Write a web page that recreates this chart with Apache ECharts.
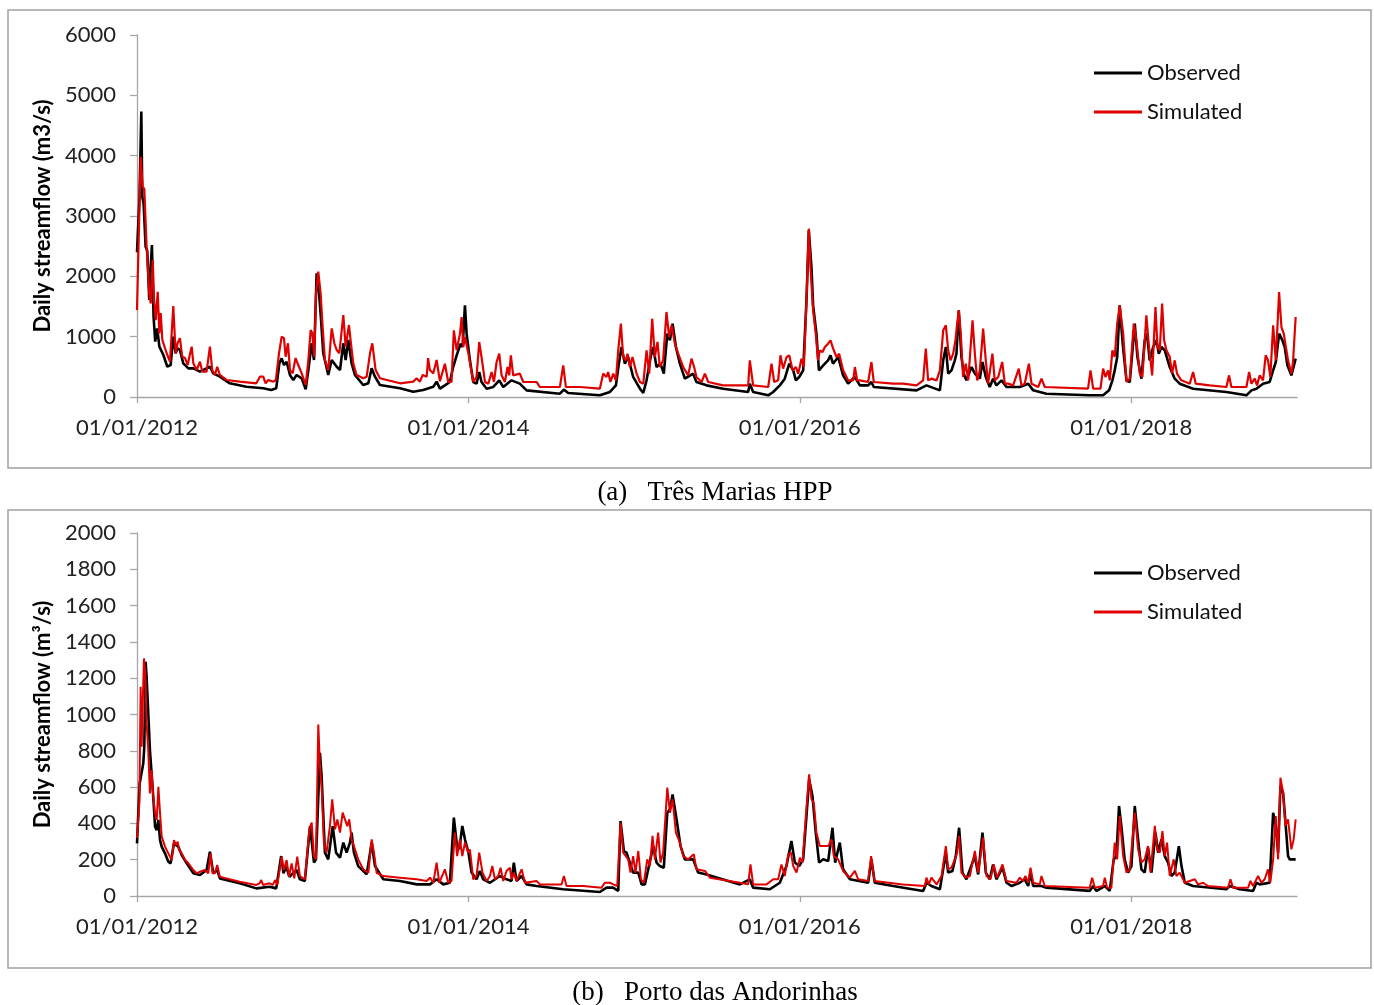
<!DOCTYPE html>
<html>
<head>
<meta charset="utf-8">
<script src="https://cdn.jsdelivr.net/npm/echarts@6/dist/echarts.min.js"></script>
<style>
html,body{margin:0;padding:0;background:#fff;}
#c{width:1374px;height:1005px;}
</style>
</head>
<body>
<div id="c"></div>
<script>
// x values are decimal years (2012.0 = 01/01/2012)
const xTickYears = [2012, 2014, 2016, 2018];
const seriesNames = ['Observed', 'Simulated'];
const panelTitles = ['(a)   Três Marias HPP', '(b)   Porto das Andorinhas'];
const yAxisTitles = ['Daily streamflow (m3/s)', 'Daily streamflow (m\u00B3/s)'];

// Panel (a) Três Marias HPP - observed
const obsA = [
[2012.000,2400],[2012.015,3300],[2012.026,4730],[2012.032,3320],[2012.040,3200],[2012.052,2490],[2012.062,2420],[2012.074,1610],[2012.083,2160],[2012.090,2520],[2012.100,1330],[2012.110,917],[2012.122,1138],[2012.135,834],[2012.159,696],[2012.183,502],[2012.203,530],[2012.219,1000],[2012.233,725],[2012.245,806],[2012.259,779],[2012.279,558],[2012.310,475],[2012.340,475],[2012.380,420],[2012.440,502],[2012.460,392],[2012.500,337],[2012.560,227],[2012.660,171],[2012.762,144],[2012.810,116],[2012.840,144],[2012.859,558],[2012.873,641],[2012.887,530],[2012.903,585],[2012.923,365],[2012.943,282],[2012.963,365],[2012.994,310],[2013.018,127],[2013.034,447],[2013.054,890],[2013.068,613],[2013.084,2050],[2013.098,1745],[2013.110,1304],[2013.124,725],[2013.154,365],[2013.175,613],[2013.205,502],[2013.225,447],[2013.245,890],[2013.259,613],[2013.275,945],[2013.295,558],[2013.315,365],[2013.365,199],[2013.396,227],[2013.416,475],[2013.436,337],[2013.466,199],[2013.587,144],[2013.667,88],[2013.727,116],[2013.788,171],[2013.808,254],[2013.828,138],[2013.858,193],[2013.888,249],[2013.908,497],[2013.929,691],[2013.953,884],[2013.965,829],[2013.979,1519],[2013.989,1050],[2014.009,608],[2014.029,249],[2014.049,221],[2014.065,414],[2014.079,249],[2014.110,138],[2014.150,166],[2014.186,276],[2014.210,166],[2014.260,276],[2014.310,221],[2014.351,110],[2014.552,55],[2014.576,122],[2014.602,66],[2014.793,28],[2014.854,83],[2014.890,193],[2014.908,552],[2014.924,829],[2014.944,552],[2014.964,663],[2014.994,332],[2015.035,138],[2015.055,66],[2015.075,276],[2015.100,663],[2015.115,829],[2015.135,497],[2015.159,552],[2015.179,387],[2015.200,1050],[2015.216,939],[2015.232,1215],[2015.252,829],[2015.276,552],[2015.306,304],[2015.356,387],[2015.376,249],[2015.437,193],[2015.537,138],[2015.688,83],[2015.698,221],[2015.718,83],[2015.809,28],[2015.839,83],[2015.879,193],[2015.909,304],[2015.936,552],[2015.960,442],[2015.976,276],[2015.996,332],[2016.020,442],[2016.040,1602],[2016.054,2763],[2016.070,2155],[2016.080,1519],[2016.100,1050],[2016.115,442],[2016.141,525],[2016.170,608],[2016.185,691],[2016.200,552],[2016.231,663],[2016.261,359],[2016.291,221],[2016.332,332],[2016.362,193],[2016.412,193],[2016.432,249],[2016.446,166],[2016.704,110],[2016.764,193],[2016.845,110],[2016.865,608],[2016.881,829],[2016.895,387],[2016.915,442],[2016.935,608],[2016.945,718],[2016.959,1436],[2016.975,663],[2016.989,387],[2017.005,276],[2017.036,497],[2017.056,387],[2017.086,304],[2017.102,580],[2017.122,332],[2017.146,166],[2017.166,304],[2017.186,193],[2017.217,276],[2017.247,166],[2017.327,166],[2017.378,221],[2017.408,110],[2017.488,55],[2017.749,28],[2017.830,28],[2017.866,110],[2017.886,276],[2017.900,442],[2017.915,663],[2017.930,1519],[2017.950,829],[2017.971,276],[2017.991,249],[2018.021,1215],[2018.037,663],[2018.061,304],[2018.081,939],[2018.095,1050],[2018.111,608],[2018.132,829],[2018.152,939],[2018.166,718],[2018.182,829],[2018.202,774],[2018.232,497],[2018.262,304],[2018.292,221],[2018.373,138],[2018.574,83],[2018.695,28],[2018.725,110],[2018.755,138],[2018.795,221],[2018.835,249],[2018.856,442],[2018.872,580],[2018.892,1050],[2018.912,939],[2018.926,829],[2018.942,525],[2018.966,359],[2018.992,635]
];
// Panel (a) Três Marias HPP - simulated
const simA = [
[2012.000,1440],[2012.022,3980],[2012.034,3485],[2012.044,3450],[2012.058,2490],[2012.074,1720],[2012.083,1550],[2012.095,2270],[2012.103,1610],[2012.113,1275],[2012.125,1745],[2012.135,1055],[2012.143,1390],[2012.153,945],[2012.179,725],[2012.199,585],[2012.219,1508],[2012.233,725],[2012.245,895],[2012.259,975],[2012.273,668],[2012.290,645],[2012.306,530],[2012.316,668],[2012.330,834],[2012.340,558],[2012.360,447],[2012.380,585],[2012.394,420],[2012.420,420],[2012.440,834],[2012.454,447],[2012.470,365],[2012.484,502],[2012.500,365],[2012.540,282],[2012.620,254],[2012.720,227],[2012.742,337],[2012.762,337],[2012.776,227],[2012.792,282],[2012.822,254],[2012.838,282],[2012.857,725],[2012.873,1000],[2012.887,975],[2012.897,668],[2012.911,890],[2012.923,447],[2012.939,392],[2012.957,645],[2012.973,530],[2012.994,392],[2013.018,199],[2013.034,613],[2013.048,1110],[2013.058,1055],[2013.070,668],[2013.080,1718],[2013.094,2077],[2013.108,1718],[2013.120,1166],[2013.134,613],[2013.154,447],[2013.175,1138],[2013.191,890],[2013.205,779],[2013.221,725],[2013.245,1359],[2013.259,834],[2013.279,1193],[2013.291,890],[2013.305,558],[2013.325,365],[2013.365,310],[2013.386,337],[2013.406,724],[2013.420,890],[2013.440,447],[2013.466,310],[2013.587,227],[2013.667,254],[2013.687,310],[2013.707,254],[2013.724,365],[2013.748,337],[2013.757,645],[2013.767,447],[2013.788,392],[2013.808,613],[2013.828,260],[2013.858,552],[2013.878,249],[2013.898,249],[2013.912,1105],[2013.929,773],[2013.949,1050],[2013.959,1326],[2013.969,829],[2013.979,995],[2014.000,718],[2014.029,249],[2014.049,332],[2014.065,912],[2014.079,663],[2014.100,249],[2014.120,221],[2014.140,414],[2014.154,249],[2014.170,580],[2014.186,718],[2014.200,359],[2014.220,249],[2014.236,497],[2014.246,359],[2014.256,691],[2014.270,359],[2014.310,387],[2014.331,249],[2014.411,249],[2014.431,166],[2014.552,166],[2014.572,525],[2014.588,166],[2014.673,166],[2014.793,138],[2014.813,387],[2014.833,332],[2014.843,414],[2014.857,249],[2014.874,387],[2014.890,276],[2014.904,773],[2014.920,1215],[2014.934,663],[2014.950,608],[2014.960,718],[2014.974,497],[2014.990,663],[2015.015,387],[2015.035,249],[2015.055,221],[2015.075,773],[2015.091,387],[2015.109,1298],[2015.125,663],[2015.141,912],[2015.155,497],[2015.175,608],[2015.195,1409],[2015.211,995],[2015.226,1188],[2015.246,884],[2015.266,718],[2015.296,497],[2015.326,359],[2015.346,635],[2015.362,497],[2015.376,332],[2015.407,249],[2015.427,387],[2015.447,249],[2015.537,193],[2015.688,193],[2015.698,608],[2015.718,193],[2015.809,166],[2015.829,552],[2015.845,249],[2015.869,276],[2015.883,691],[2015.899,470],[2015.920,663],[2015.936,691],[2015.956,442],[2015.976,497],[2015.990,387],[2016.010,635],[2016.024,497],[2016.040,1602],[2016.054,2790],[2016.064,2155],[2016.080,1436],[2016.096,1050],[2016.110,608],[2016.120,773],[2016.137,746],[2016.151,829],[2016.170,884],[2016.185,939],[2016.201,801],[2016.221,663],[2016.237,718],[2016.261,442],[2016.291,276],[2016.322,276],[2016.332,497],[2016.346,276],[2016.362,276],[2016.412,249],[2016.432,580],[2016.446,249],[2016.563,221],[2016.623,221],[2016.704,193],[2016.744,276],[2016.760,801],[2016.774,276],[2016.794,304],[2016.825,276],[2016.845,442],[2016.865,1105],[2016.881,1188],[2016.895,774],[2016.909,608],[2016.925,718],[2016.939,939],[2016.949,1215],[2016.959,1436],[2016.971,1050],[2016.985,332],[2017.001,552],[2017.016,276],[2017.026,276],[2017.042,1271],[2017.056,718],[2017.070,276],[2017.086,442],[2017.106,1133],[2017.122,608],[2017.136,221],[2017.162,718],[2017.176,276],[2017.197,332],[2017.221,580],[2017.237,221],[2017.257,221],[2017.287,193],[2017.321,470],[2017.337,193],[2017.357,221],[2017.382,552],[2017.398,221],[2017.438,166],[2017.458,304],[2017.478,166],[2017.739,138],[2017.754,442],[2017.770,138],[2017.814,138],[2017.830,470],[2017.844,332],[2017.860,442],[2017.870,276],[2017.886,774],[2017.900,663],[2017.915,1215],[2017.930,1519],[2017.951,1050],[2017.971,249],[2017.991,304],[2018.015,1215],[2018.031,939],[2018.051,387],[2018.067,332],[2018.091,1354],[2018.105,884],[2018.126,359],[2018.146,1492],[2018.158,829],[2018.172,774],[2018.186,1547],[2018.198,939],[2018.212,774],[2018.232,663],[2018.246,387],[2018.262,608],[2018.276,387],[2018.302,276],[2018.353,221],[2018.373,414],[2018.389,221],[2018.474,193],[2018.574,166],[2018.590,359],[2018.604,166],[2018.695,166],[2018.711,414],[2018.725,221],[2018.745,304],[2018.759,193],[2018.775,359],[2018.795,276],[2018.811,691],[2018.825,608],[2018.839,332],[2018.856,1188],[2018.872,608],[2018.892,1740],[2018.906,1160],[2018.920,1050],[2018.932,1077],[2018.946,608],[2018.966,387],[2018.976,580],[2018.992,1326]
];
// Panel (b) Porto das Andorinhas - observed
const obsB = [
[2012.000,290],[2012.016,620],[2012.038,731],[2012.044,822],[2012.052,1290],[2012.058,1208],[2012.068,1006],[2012.078,804],[2012.088,676],[2012.098,547],[2012.109,382],[2012.119,363],[2012.129,419],[2012.139,308],[2012.149,272],[2012.169,235],[2012.189,189],[2012.203,180],[2012.223,290],[2012.249,272],[2012.270,226],[2012.300,180],[2012.340,125],[2012.380,116],[2012.420,143],[2012.440,244],[2012.460,125],[2012.484,143],[2012.500,97],[2012.620,70],[2012.720,42],[2012.800,51],[2012.840,42],[2012.870,220],[2012.884,125],[2012.900,162],[2012.920,106],[2012.940,125],[2012.963,143],[2012.983,92],[2013.013,83],[2013.044,385],[2013.068,184],[2013.080,202],[2013.104,789],[2013.114,661],[2013.134,239],[2013.154,202],[2013.181,385],[2013.201,239],[2013.225,211],[2013.245,294],[2013.265,239],[2013.285,294],[2013.295,349],[2013.309,239],[2013.335,165],[2013.386,119],[2013.416,294],[2013.436,165],[2013.486,92],[2013.587,83],[2013.688,64],[2013.768,64],[2013.808,92],[2013.848,64],[2013.888,73],[2013.912,432],[2013.929,294],[2013.945,257],[2013.963,386],[2013.979,312],[2014.000,239],[2014.019,129],[2014.049,92],[2014.069,138],[2014.089,92],[2014.130,73],[2014.190,110],[2014.230,92],[2014.260,83],[2014.274,184],[2014.290,83],[2014.321,110],[2014.351,64],[2014.411,55],[2014.572,37],[2014.793,22],[2014.833,46],[2014.873,46],[2014.904,28],[2014.918,413],[2014.938,248],[2014.954,239],[2014.974,184],[2014.994,129],[2015.025,129],[2015.045,64],[2015.065,64],[2015.085,147],[2015.115,275],[2015.135,184],[2015.155,165],[2015.179,156],[2015.200,459],[2015.216,478],[2015.232,560],[2015.256,422],[2015.280,275],[2015.306,202],[2015.356,202],[2015.386,129],[2015.437,119],[2015.638,64],[2015.698,92],[2015.718,46],[2015.819,37],[2015.879,73],[2015.919,165],[2015.949,303],[2015.970,184],[2015.996,165],[2016.020,202],[2016.040,441],[2016.056,643],[2016.076,551],[2016.096,349],[2016.116,184],[2016.141,202],[2016.171,193],[2016.197,376],[2016.213,184],[2016.241,294],[2016.261,147],[2016.302,92],[2016.412,73],[2016.432,202],[2016.452,73],[2016.563,55],[2016.744,28],[2016.764,73],[2016.794,55],[2016.845,37],[2016.881,239],[2016.895,129],[2016.921,138],[2016.941,220],[2016.961,376],[2016.981,129],[2017.005,92],[2017.056,220],[2017.076,119],[2017.102,349],[2017.122,129],[2017.146,92],[2017.166,174],[2017.186,92],[2017.223,156],[2017.247,73],[2017.277,55],[2017.327,73],[2017.357,92],[2017.378,55],[2017.392,129],[2017.408,55],[2017.458,55],[2017.488,46],[2017.749,28],[2017.770,55],[2017.790,28],[2017.840,55],[2017.870,28],[2017.894,202],[2017.910,220],[2017.926,496],[2017.940,386],[2017.960,202],[2017.981,129],[2018.001,165],[2018.021,496],[2018.041,312],[2018.061,147],[2018.081,129],[2018.101,266],[2018.122,129],[2018.146,349],[2018.162,239],[2018.182,312],[2018.202,220],[2018.222,184],[2018.242,110],[2018.262,129],[2018.287,275],[2018.303,165],[2018.323,73],[2018.373,55],[2018.574,37],[2018.594,55],[2018.654,37],[2018.735,28],[2018.755,73],[2018.775,64],[2018.835,73],[2018.856,459],[2018.872,386],[2018.886,239],[2018.900,606],[2018.916,569],[2018.932,386],[2018.946,220],[2018.956,202],[2018.992,202]
];
// Panel (b) Porto das Andorinhas - simulated
const simB = [
[2012.000,320],[2012.014,510],[2012.022,1153],[2012.028,822],[2012.034,1043],[2012.042,1309],[2012.050,1226],[2012.058,951],[2012.068,804],[2012.078,565],[2012.088,694],[2012.098,547],[2012.109,455],[2012.119,419],[2012.129,602],[2012.139,455],[2012.149,327],[2012.169,272],[2012.189,235],[2012.209,198],[2012.223,308],[2012.235,281],[2012.245,299],[2012.255,253],[2012.270,235],[2012.290,198],[2012.310,180],[2012.340,143],[2012.360,125],[2012.380,134],[2012.410,143],[2012.430,125],[2012.444,235],[2012.456,125],[2012.470,125],[2012.484,171],[2012.500,106],[2012.540,97],[2012.620,79],[2012.720,61],[2012.740,70],[2012.750,88],[2012.760,61],[2012.800,70],[2012.820,61],[2012.833,88],[2012.847,61],[2012.873,217],[2012.887,143],[2012.903,198],[2012.917,106],[2012.933,180],[2012.949,97],[2012.967,217],[2012.983,110],[2013.013,92],[2013.040,367],[2013.054,404],[2013.068,220],[2013.080,202],[2013.094,945],[2013.104,716],[2013.114,606],[2013.128,294],[2013.144,239],[2013.164,385],[2013.178,532],[2013.195,367],[2013.209,422],[2013.225,349],[2013.241,459],[2013.255,422],[2013.269,385],[2013.281,422],[2013.295,312],[2013.309,275],[2013.335,202],[2013.365,147],[2013.396,128],[2013.416,312],[2013.430,239],[2013.446,128],[2013.486,110],[2013.587,101],[2013.687,92],[2013.748,83],[2013.768,101],[2013.788,73],[2013.808,184],[2013.824,73],[2013.858,147],[2013.878,73],[2013.898,83],[2013.918,349],[2013.932,220],[2013.949,312],[2013.963,220],[2013.979,294],[2014.000,239],[2014.009,257],[2014.029,92],[2014.049,110],[2014.065,239],[2014.085,129],[2014.110,83],[2014.130,110],[2014.144,165],[2014.160,92],[2014.180,110],[2014.194,156],[2014.210,83],[2014.230,138],[2014.250,156],[2014.260,92],[2014.274,129],[2014.290,83],[2014.321,147],[2014.341,73],[2014.411,83],[2014.431,64],[2014.562,64],[2014.576,110],[2014.592,55],[2014.693,55],[2014.803,46],[2014.823,73],[2014.854,73],[2014.874,64],[2014.898,55],[2014.918,404],[2014.934,239],[2014.950,220],[2014.964,202],[2014.978,129],[2014.994,220],[2015.008,129],[2015.025,248],[2015.041,92],[2015.059,73],[2015.079,202],[2015.095,165],[2015.111,331],[2015.125,202],[2015.145,349],[2015.159,184],[2015.175,239],[2015.200,597],[2015.216,459],[2015.232,533],[2015.252,349],[2015.276,294],[2015.296,220],[2015.326,202],[2015.360,230],[2015.376,147],[2015.427,138],[2015.457,101],[2015.638,73],[2015.688,64],[2015.702,174],[2015.718,64],[2015.799,64],[2015.839,92],[2015.869,92],[2015.889,174],[2015.909,110],[2015.930,230],[2015.946,239],[2015.960,165],[2015.980,129],[2016.000,211],[2016.016,184],[2016.036,441],[2016.056,670],[2016.070,533],[2016.084,514],[2016.100,349],[2016.120,275],[2016.141,275],[2016.171,275],[2016.191,312],[2016.205,220],[2016.231,202],[2016.261,138],[2016.302,101],[2016.332,138],[2016.352,92],[2016.412,83],[2016.430,220],[2016.450,83],[2016.623,64],[2016.754,55],[2016.764,101],[2016.778,64],[2016.794,101],[2016.825,64],[2016.855,110],[2016.881,275],[2016.895,147],[2016.915,156],[2016.935,202],[2016.949,239],[2016.961,331],[2016.975,129],[2017.001,101],[2017.026,110],[2017.056,248],[2017.076,129],[2017.106,321],[2017.126,110],[2017.150,92],[2017.170,174],[2017.190,101],[2017.223,174],[2017.247,83],[2017.307,73],[2017.327,101],[2017.347,83],[2017.361,110],[2017.378,73],[2017.392,156],[2017.408,73],[2017.448,64],[2017.458,110],[2017.478,55],[2017.749,46],[2017.764,101],[2017.780,46],[2017.830,55],[2017.840,101],[2017.854,46],[2017.880,46],[2017.900,294],[2017.915,202],[2017.930,441],[2017.951,220],[2017.971,129],[2017.991,147],[2018.021,459],[2018.041,257],[2018.061,184],[2018.081,202],[2018.101,275],[2018.116,129],[2018.142,386],[2018.156,257],[2018.172,239],[2018.188,358],[2018.202,220],[2018.216,294],[2018.232,110],[2018.256,202],[2018.272,110],[2018.292,129],[2018.323,73],[2018.383,92],[2018.403,64],[2018.433,73],[2018.463,55],[2018.584,46],[2018.598,92],[2018.614,46],[2018.705,46],[2018.719,83],[2018.735,55],[2018.765,110],[2018.785,73],[2018.805,92],[2018.825,147],[2018.839,73],[2018.856,202],[2018.872,441],[2018.886,202],[2018.900,652],[2018.916,569],[2018.930,386],[2018.946,422],[2018.966,257],[2018.980,312],[2018.992,422]
];

const FONT = 'Lato';
const AXIS_COLOR = '#a6a6a6';

function xAxisCfg(gridIndex) {
  return {
    type: 'value', gridIndex: gridIndex, min: 2012, max: 2019,
    axisLine: { show: true, lineStyle: { color: AXIS_COLOR, width: 1.3 } },
    axisTick: { show: true, length: 6, customValues: xTickYears, lineStyle: { color: AXIS_COLOR, width: 1.3 } },
    axisLabel: { customValues: xTickYears, margin: 20, color: '#222', fontFamily: FONT, fontSize: 22,
      formatter: function (v) { return '01/01/' + v; } },
    splitLine: { show: false }
  };
}
function yAxisCfg(gridIndex, maxV, step, title) {
  return {
    type: 'value', gridIndex: gridIndex, min: 0, max: maxV, interval: step,
    name: title, nameLocation: 'middle', nameGap: 80, nameRotate: 90,
    nameTextStyle: { fontFamily: FONT, fontWeight: 'bold', fontSize: 22, color: '#000' },
    axisLine: { show: true, lineStyle: { color: AXIS_COLOR, width: 1.3 } },
    axisTick: { show: true, length: 7, lineStyle: { color: AXIS_COLOR, width: 1.3 } },
    axisLabel: { margin: 21, color: '#222', fontFamily: FONT, fontSize: 22,
      formatter: function (v) { return String(v); } },
    splitLine: { show: false }
  };
}
function legendCfg(top) {
  return {
    orient: 'vertical', left: 1089, top: top, itemWidth: 48, itemHeight: 3, itemGap: 17,
    icon: 'rect', data: seriesNames, selectedMode: false,
    textStyle: { fontFamily: FONT, fontSize: 22, color: '#111' }
  };
}
function lineSeries(name, data, idx, color, width, z) {
  return {
    name: name, type: 'line', xAxisIndex: idx, yAxisIndex: idx, data: data,
    symbol: 'none', showSymbol: false, smooth: false, z: z,
    lineStyle: { color: color, width: width }, itemStyle: { color: color }
  };
}

const chart = echarts.init(document.getElementById('c'));
chart.setOption({
  animation: false,
  backgroundColor: '#fff',
  grid: [
    { left: 137, top: 35, width: 1160, height: 362 },
    { left: 137, top: 533, width: 1160, height: 363 }
  ],
  xAxis: [xAxisCfg(0), xAxisCfg(1)],
  yAxis: [yAxisCfg(0, 6000, 1000, yAxisTitles[0]), yAxisCfg(1, 2000, 200, yAxisTitles[1])],
  legend: [legendCfg(57), legendCfg(557)],
  series: [
    lineSeries(seriesNames[0], obsA, 0, '#000000', 2.6, 2),
    lineSeries(seriesNames[1], simA, 0, '#e00000', 2.2, 3),
    lineSeries(seriesNames[0], obsB, 1, '#000000', 2.6, 2),
    lineSeries(seriesNames[1], simB, 1, '#e00000', 2.0, 3)
  ],
  graphic: [
    { type: 'rect', shape: { x: 8, y: 10, width: 1363, height: 458 }, style: { fill: 'none', stroke: '#a0a0a0', lineWidth: 1.5 }, silent: true },
    { type: 'rect', shape: { x: 8, y: 510, width: 1363, height: 458 }, style: { fill: 'none', stroke: '#a0a0a0', lineWidth: 1.5 }, silent: true },
    { type: 'text', x: 715, y: 493, style: { text: panelTitles[0], textAlign: 'center', textVerticalAlign: 'middle', font: '27px "Liberation Serif", "Times New Roman", serif', fill: '#000' } },
    { type: 'text', x: 715, y: 993, style: { text: panelTitles[1], textAlign: 'center', textVerticalAlign: 'middle', font: '27px "Liberation Serif", "Times New Roman", serif', fill: '#000' } }
  ]
});
</script>
</body>
</html>
